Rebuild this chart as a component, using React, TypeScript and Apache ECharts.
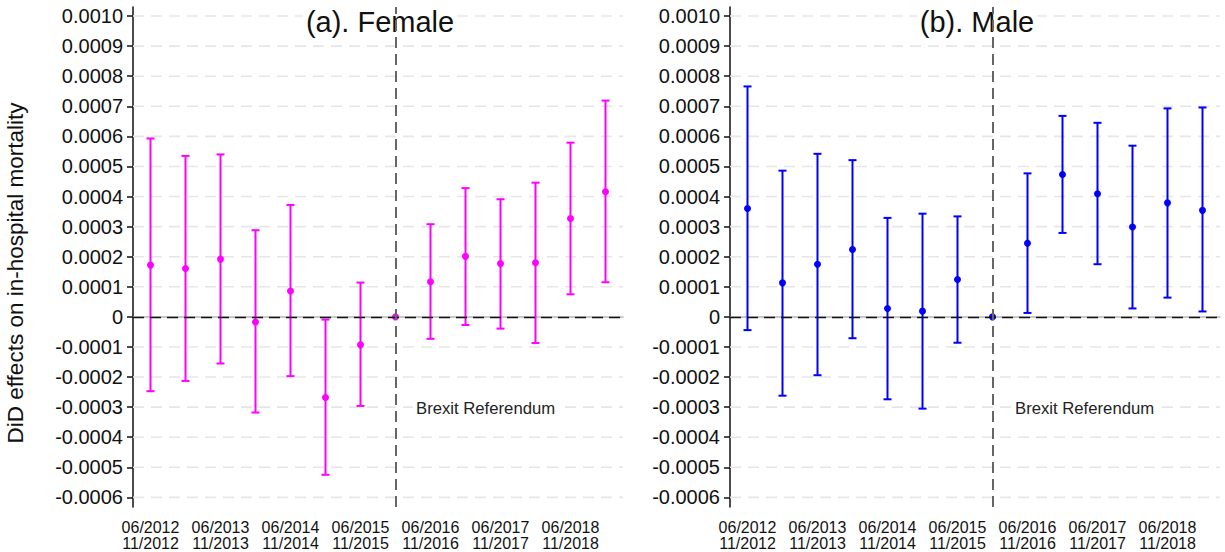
import React, { useEffect, useRef } from "react";
import * as echarts from "echarts";

const periods = [
  "06/2012\n11/2012", "12/2012\n05/2013", "06/2013\n11/2013", "12/2013\n05/2014",
  "06/2014\n11/2014", "12/2014\n05/2015", "06/2015\n11/2015", "12/2015\n05/2016",
  "06/2016\n11/2016", "12/2016\n05/2017", "06/2017\n11/2017", "12/2017\n05/2018",
  "06/2018\n11/2018", "12/2018\n05/2019",
];
const referenceIndex = 7;

const yTicks = [-0.0006, -0.0005, -0.0004, -0.0003, -0.0002, -0.0001, 0, 0.0001, 0.0002, 0.0003, 0.0004, 0.0005, 0.0006, 0.0007, 0.0008, 0.0009, 0.001];
const yMin = -0.000632;
const yMax = 0.00103;

const femaleEst = [0.000172, 0.000161, 0.000192, -0.000017, 0.000086, -0.000268, -0.000093, 0, 0.000117, 0.000201, 0.000177, 0.00018, 0.000327, 0.000416];
const femaleLow = [-0.000247, -0.000213, -0.000155, -0.000318, -0.000197, -0.000525, -0.000296, null, -0.000073, -0.000027, -0.000039, -0.000087, 0.000075, 0.000115];
const femaleHigh = [0.000593, 0.000535, 0.00054, 0.000288, 0.000372, -0.000009, 0.000114, null, 0.000308, 0.000428, 0.000391, 0.000446, 0.000579, 0.000719];

const maleEst = [0.00036, 0.000113, 0.000175, 0.000224, 0.000028, 0.000019, 0.000124, 0, 0.000245, 0.000473, 0.000409, 0.000299, 0.000379, 0.000354];
const maleLow = [-0.000044, -0.000262, -0.000194, -0.000071, -0.000274, -0.000305, -0.000086, null, 0.000013, 0.000279, 0.000175, 0.000028, 0.000064, 0.000018];
const maleHigh = [0.000766, 0.000486, 0.000542, 0.000521, 0.000329, 0.000343, 0.000334, null, 0.000477, 0.000668, 0.000645, 0.000569, 0.000693, 0.000696];

const titles = ["(a). Female", "(b). Male"];
const yName = "DiD effects on in-hospital mortality";
const refLabel = "Brexit Referendum";

const FONT = "'Liberation Sans', Arial, sans-serif";

function fmt(v: number) {
  if (Math.abs(v) < 1e-12) return "0";
  return v.toFixed(4);
}

function panelSeries(idx: number, est: number[], low: (number | null)[], high: (number | null)[], color: string) {
  const barData: number[][] = [];
  low.forEach((l, i) => {
    if (l !== null && high[i] !== null) barData.push([i, l as number, high[i] as number]);
  });
  return [
    {
      type: "custom",
      xAxisIndex: idx,
      yAxisIndex: idx,
      z: 1,
      silent: true,
      data: yTicks.filter((v) => Math.abs(v) > 1e-12).map((v) => [0, v]),
      encode: { x: 0, y: 1 },
      renderItem: (params: any, api: any) => {
        const y = api.coord([0, api.value(1)])[1];
        const cs = params.coordSys;
        return {
          type: "line",
          shape: { x1: cs.x, y1: y, x2: cs.x + cs.width, y2: y },
          style: { stroke: "#e6e6e6", lineWidth: 1.6, lineDash: [11, 7] },
        };
      },
    },
    {
      type: "custom",
      xAxisIndex: idx,
      yAxisIndex: idx,
      z: 3,
      data: barData,
      encode: { x: 0, y: [1, 2] },
      renderItem: (params: any, api: any) => {
        const x = api.value(0);
        const top = api.coord([x, api.value(2)]);
        const bot = api.coord([x, api.value(1)]);
        const hw = 4;
        const style = { stroke: color, lineWidth: 2 };
        return {
          type: "group",
          children: [
            { type: "line", shape: { x1: top[0], y1: top[1], x2: bot[0], y2: bot[1] }, style },
            { type: "line", shape: { x1: top[0] - hw, y1: top[1], x2: top[0] + hw, y2: top[1] }, style },
            { type: "line", shape: { x1: bot[0] - hw, y1: bot[1], x2: bot[0] + hw, y2: bot[1] }, style },
          ],
        };
      },
      markLine: {
        silent: true,
        symbol: ["none", "none"],
        label: { show: false },
        animation: false,
        data: [
          { yAxis: 0, lineStyle: { color: "#111", type: [11, 6], width: 1.3 } },
          { xAxis: periods[referenceIndex], lineStyle: { color: "#666", type: [11, 6], width: 2 } },
        ],
      },
    },
    {
      type: "scatter",
      xAxisIndex: idx,
      yAxisIndex: idx,
      z: 4,
      symbol: "circle",
      symbolSize: 7,
      itemStyle: { color, opacity: 1 },
      data: est.map((v, i) => [i, v]),
    },
  ];
}

export default function App() {
  const ref = useRef<HTMLDivElement>(null);
  useEffect(() => {
    if (!ref.current) return;
    const chart = echarts.init(ref.current, null, { renderer: "svg" });
    const grids = [
      { left: 133, top: 7, width: 490, height: 500 },
      { left: 730, top: 7, width: 490, height: 500 },
    ];
    const xAxes = grids.map((_, i) => ({
      type: "category",
      gridIndex: i,
      data: periods,
      boundaryGap: true,
      axisLine: { lineStyle: { color: "#b5b5b5", width: 1.5 } },
      axisTick: { alignWithLabel: true, interval: 0, length: 6, lineStyle: { color: "#444", width: 1.5 } },
      axisLabel: {
        interval: 1,
        color: "#111",
        fontFamily: FONT,
        fontSize: 16,
        lineHeight: 16,
        margin: 12,
      },
      splitLine: { show: false },
    }));
    const yAxes = grids.map((_, i) => ({
      type: "value",
      gridIndex: i,
      min: yMin,
      max: yMax,
      axisLine: { show: true, lineStyle: { color: "#111", width: 1.5 } },
      axisTick: { show: true, customValues: yTicks, length: 6, lineStyle: { color: "#111", width: 1.5 } },
      axisLabel: {
        customValues: yTicks,
        formatter: (v: number) => fmt(v),
        color: "#111",
        fontFamily: FONT,
        fontSize: 20,
        margin: 10,
      },
      splitLine: { show: false },
    }));
    const boxed = { backgroundColor: "#fff", padding: [1, 3] };
    chart.setOption({
      animation: false,
      backgroundColor: "#fff",
      grid: grids,
      xAxis: xAxes,
      yAxis: yAxes,
      series: [
        ...panelSeries(0, femaleEst, femaleLow, femaleHigh, "#ff00ff"),
        ...panelSeries(1, maleEst, maleLow, maleHigh, "#0000ff"),
      ],
      graphic: [
        { type: "text", z: 2, x: 380, y: 22, style: { text: titles[0], font: `29px ${FONT}`, fill: "#111", align: "center", verticalAlign: "middle", ...boxed } },
        { type: "text", z: 2, x: 977, y: 22, style: { text: titles[1], font: `29px ${FONT}`, fill: "#111", align: "center", verticalAlign: "middle", ...boxed } },
        { type: "text", z: 2, x: 413, y: 408, style: { text: refLabel, font: `16.7px ${FONT}`, fill: "#222", align: "left", verticalAlign: "middle", ...boxed } },
        { type: "text", z: 2, x: 1012, y: 408, style: { text: refLabel, font: `16.7px ${FONT}`, fill: "#222", align: "left", verticalAlign: "middle", ...boxed } },
        { type: "text", x: 15, y: 273, rotation: Math.PI / 2, style: { text: yName, font: `22.5px ${FONT}`, fill: "#111", align: "center", verticalAlign: "middle" } },
      ],
    });
    return () => chart.dispose();
  }, []);
  return <div ref={ref} style={{ position: "fixed", left: 0, top: 0, width: 1225, height: 552 }} />;
}
